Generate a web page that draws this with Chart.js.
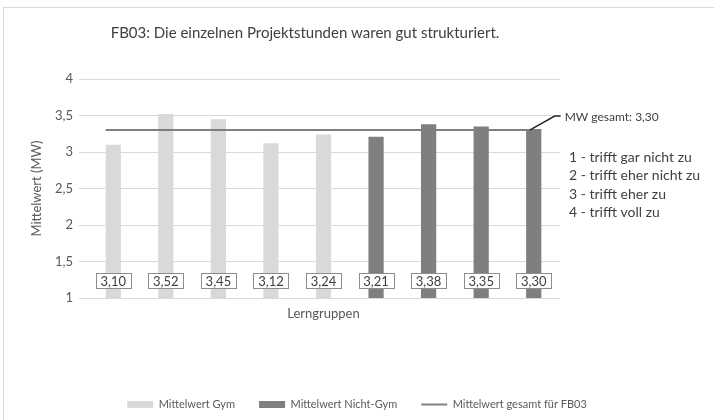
<!DOCTYPE html>
<html>
<head>
<meta charset="utf-8">
<script src="https://cdn.jsdelivr.net/npm/chart.js@4.4.1/dist/chart.umd.min.js"></script>
<style>
  html, body { margin: 0; padding: 0; background: #fff; }
  canvas { display: block; }
</style>
</head>
<body>
<canvas id="chart" width="714" height="420"></canvas>
<script>
// data
const groups = ['Gruppe 1', 'Gruppe 2', 'Gruppe 3', 'Gruppe 4', 'Gruppe 5', 'Gruppe 6', 'Gruppe 7', 'Gruppe 8', 'Gruppe 9'];
const gymValues = [3.10, 3.52, 3.45, 3.12, 3.24, null, null, null, null];
const nichtGymValues = [null, null, null, null, null, 3.21, 3.38, 3.35, 3.30];
const meanTotal = 3.30;
const meanValues = [3.30, 3.30, 3.30, 3.30, 3.30, 3.30, 3.30, 3.30, 3.30];
const yMin = 1, yMax = 4, yStep = 0.5;
const scaleNotes = ['1 - trifft gar nicht zu', '2 - trifft eher nicht zu', '3 - trifft eher zu', '4 - trifft voll zu'];

const titleText = 'FB03: Die einzelnen Projektstunden waren gut strukturiert.';
const FONT = 'Lato';
const fmt = v => v.toFixed(2).replace('.', ',');

// all bars in category order, whichever dataset they belong to
function allBars(chart) {
  const out = [];
  [0, 1].forEach(di => {
    const ds = chart.data.datasets[di];
    chart.getDatasetMeta(di).data.forEach((el, i) => {
      if (ds.data[i] != null) out[i] = { el, value: ds.data[i] };
    });
  });
  return out;
}

const decor = {
  id: 'decor',
  beforeDraw(chart) {
    const ctx = chart.ctx;
    ctx.save();
    ctx.fillStyle = '#fff';
    ctx.fillRect(0, 0, chart.width, chart.height);
    ctx.strokeStyle = '#d9d9d9';
    ctx.lineWidth = 1;
    ctx.strokeRect(3.5, 7.5, chart.width + 20, chart.height + 20);
    // title
    ctx.fillStyle = '#404040';
    ctx.font = '15px ' + FONT;
    ctx.textAlign = 'center';
    ctx.textBaseline = 'middle';
    ctx.fillText(titleText, 305, 33);
    ctx.restore();
  },
  afterDatasetsDraw(chart) {
    const ctx = chart.ctx;
    const y = chart.scales.y;
    const bars = allBars(chart);
    const first = bars[0].el, last = bars[bars.length - 1].el;
    const my = y.getPixelForValue(meanTotal);
    ctx.save();

    // overall mean line, bar edge to bar edge
    ctx.strokeStyle = '#7f7f7f';
    ctx.lineWidth = 2;
    ctx.beginPath();
    ctx.moveTo(first.x - first.width / 2, my);
    ctx.lineTo(last.x + last.width / 2, my);
    ctx.stroke();

    // leader + label for the mean
    ctx.strokeStyle = '#262626';
    ctx.lineWidth = 1.5;
    ctx.beginPath();
    ctx.moveTo(last.x - 4, my);
    ctx.lineTo(last.x + 21, my - 14);
    ctx.lineTo(last.x + 27, my - 14);
    ctx.stroke();
    ctx.fillStyle = '#404040';
    ctx.font = '12px ' + FONT;
    ctx.textAlign = 'left';
    ctx.textBaseline = 'middle';
    ctx.fillText('MW gesamt: ' + fmt(meanTotal), last.x + 31, my - 13);

    // value boxes at the base of each bar
    ctx.font = '13px ' + FONT;
    ctx.textAlign = 'center';
    const by = y.getPixelForValue(yMin) - 17;
    bars.forEach(b => {
      const t = fmt(b.value);
      const w = Math.round(ctx.measureText(t).width) + 9;
      ctx.fillStyle = '#fff';
      ctx.fillRect(Math.round(b.el.x - w / 2) + 0.5, by - 7.5, w, 15);
      ctx.strokeStyle = '#8c8c8c';
      ctx.lineWidth = 1;
      ctx.strokeRect(Math.round(b.el.x - w / 2) + 0.5, by - 7.5, w, 15);
      ctx.fillStyle = '#404040';
      ctx.fillText(t, b.el.x, by + 0.5);
    });

    // scale legend text on the right
    ctx.font = '14px ' + FONT;
    ctx.textAlign = 'left';
    ctx.fillStyle = '#404040';
    scaleNotes.forEach((s, i) => ctx.fillText(s, 569, 157 + i * 18.5));
    ctx.restore();
  }
};

new Chart(document.getElementById('chart'), {
  type: 'bar',
  data: {
    labels: groups,
    datasets: [
      {
        label: 'Mittelwert Gym',
        data: gymValues,
        backgroundColor: '#d9d9d9',
        borderWidth: 0,
        skipNull: true,
        categoryPercentage: 1,
        barPercentage: 0.29,
        pointStyle: 'rect'
      },
      {
        label: 'Mittelwert Nicht-Gym',
        data: nichtGymValues,
        backgroundColor: '#7f7f7f',
        borderWidth: 0,
        skipNull: true,
        categoryPercentage: 1,
        barPercentage: 0.29,
        pointStyle: 'rect'
      },
      {
        type: 'line',
        label: 'Mittelwert gesamt für FB03',
        data: meanValues,
        borderColor: '#7f7f7f',
        backgroundColor: '#7f7f7f',
        borderWidth: 2,
        pointRadius: 0,
        pointStyle: 'line'
      }
    ]
  },
  options: {
    responsive: false,
    animation: false,
    layout: { padding: { top: 79, left: 0, right: 0, bottom: 0 } },
    plugins: {
      title: { display: false },
      tooltip: { enabled: false },
      legend: {
        position: 'bottom',
        labels: {
          usePointStyle: true,
          pointStyleWidth: 26,
          boxHeight: 7,
          padding: 24,
          color: '#595959',
          font: { family: FONT, size: 11 }
        }
      }
    },
    scales: {
      x: {
        grid: { display: false },
        border: { display: false },
        ticks: { display: false },
        title: {
          display: true,
          text: 'Lerngruppen',
          color: '#595959',
          font: { family: FONT, size: 13 },
          padding: { top: 0, bottom: 53 }
        },
        afterFit(scale) { scale.height = 77; }
      },
      y: {
        min: yMin,
        max: yMax,
        border: { display: false },
        grid: { color: '#d9d9d9', lineWidth: 1, drawTicks: true, tickLength: 8 },
        ticks: {
          stepSize: yStep,
          padding: 6,
          color: '#595959',
          font: { family: FONT, size: 13 },
          callback: v => String(v).replace('.', ',')
        },
        title: {
          display: true,
          text: 'Mittelwert (MW)',
          color: '#595959',
          font: { family: FONT, size: 13 },
          padding: { top: 29, bottom: 0 }
        },
        afterFit(scale) { scale.width = 87; }
      },
      y2: {
        position: 'right',
        display: true,
        grid: { display: false },
        border: { display: false },
        ticks: { display: false },
        afterFit(scale) { scale.width = 154; }
      }
    }
  },
  plugins: [decor]
});
</script>
</body>
</html>
